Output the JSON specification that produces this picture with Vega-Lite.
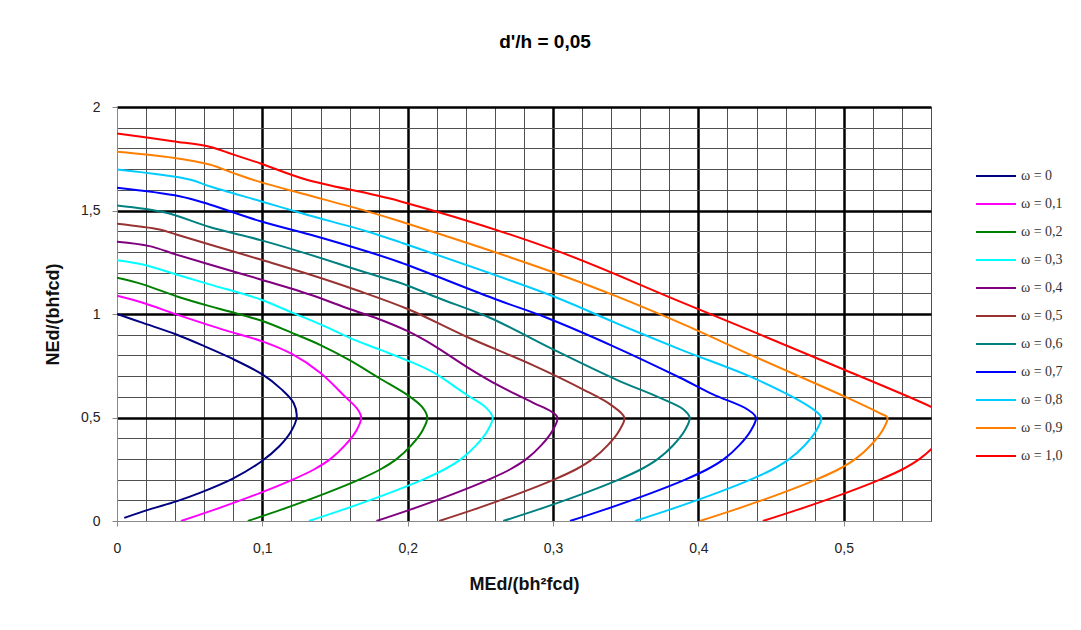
{
"$schema": "https://vega.github.io/schema/vega-lite/v6.json",
"width": 814, "height": 414,
"autosize": {"type": "none"},
"padding": {"left": 117, "top": 107, "right": 150, "bottom": 109},
"background": "white",
"title": {"text": "d'/h = 0,05", "font": "Liberation Sans", "fontSize": 19, "fontWeight": "bold", "color": "#000", "anchor": "middle", "frame": "group", "dx": 21, "offset": 48},
"config": {"view": {"stroke": "#888", "strokeWidth": 1}},
"datasets": {"curves": [
{"w":"ω = 0","i":0,"m":0,"n":1.0},{"w":"ω = 0","i":1,"m":0.0178,"n":0.957},{"w":"ω = 0","i":2,"m":0.0408,"n":0.901},{"w":"ω = 0","i":3,"m":0.06,"n":0.845},{"w":"ω = 0","i":4,"m":0.0775,"n":0.79},{"w":"ω = 0","i":5,"m":0.1,"n":0.708},{"w":"ω = 0","i":6,"m":0.113,"n":0.637},{"w":"ω = 0","i":7,"m":0.1215,"n":0.57},{"w":"ω = 0","i":8,"m":0.1236,"n":0.5},{"w":"ω = 0","i":9,"m":0.1195,"n":0.43},{"w":"ω = 0","i":10,"m":0.1115,"n":0.36},{"w":"ω = 0","i":11,"m":0.0988,"n":0.285},{"w":"ω = 0","i":12,"m":0.0797,"n":0.205},{"w":"ω = 0","i":13,"m":0.057,"n":0.136},{"w":"ω = 0","i":14,"m":0.0408,"n":0.095},{"w":"ω = 0","i":15,"m":0.0224,"n":0.056},{"w":"ω = 0","i":16,"m":0.005,"n":0.015},
{"w":"ω = 0,1","i":0,"m":0,"n":1.088},{"w":"ω = 0,1","i":1,"m":0.0178,"n":1.054},{"w":"ω = 0,1","i":2,"m":0.0408,"n":0.998},{"w":"ω = 0,1","i":3,"m":0.0637,"n":0.945},{"w":"ω = 0,1","i":4,"m":0.0775,"n":0.915},{"w":"ω = 0,1","i":5,"m":0.1,"n":0.868},{"w":"ω = 0,1","i":6,"m":0.12,"n":0.808},{"w":"ω = 0,1","i":7,"m":0.14,"n":0.715},{"w":"ω = 0,1","i":8,"m":0.157,"n":0.6},{"w":"ω = 0,1","i":9,"m":0.1655,"n":0.54},{"w":"ω = 0,1","i":10,"m":0.168,"n":0.5},{"w":"ω = 0,1","i":11,"m":0.1649,"n":0.44},{"w":"ω = 0,1","i":12,"m":0.1568,"n":0.365},{"w":"ω = 0,1","i":13,"m":0.1469,"n":0.3},{"w":"ω = 0,1","i":14,"m":0.1358,"n":0.25},{"w":"ω = 0,1","i":15,"m":0.1209,"n":0.2},{"w":"ω = 0,1","i":16,"m":0.0986,"n":0.136},{"w":"ω = 0,1","i":17,"m":0.0676,"n":0.056},{"w":"ω = 0,1","i":18,"m":0.044,"n":0.0},
{"w":"ω = 0,2","i":0,"m":0,"n":1.175},{"w":"ω = 0,2","i":1,"m":0.0178,"n":1.143},{"w":"ω = 0,2","i":2,"m":0.0408,"n":1.086},{"w":"ω = 0,2","i":3,"m":0.0637,"n":1.038},{"w":"ω = 0,2","i":4,"m":0.0775,"n":1.012},{"w":"ω = 0,2","i":5,"m":0.1,"n":0.966},{"w":"ω = 0,2","i":6,"m":0.12,"n":0.91},{"w":"ω = 0,2","i":7,"m":0.14,"n":0.85},{"w":"ω = 0,2","i":8,"m":0.16,"n":0.777},{"w":"ω = 0,2","i":9,"m":0.18,"n":0.692},{"w":"ω = 0,2","i":10,"m":0.2,"n":0.608},{"w":"ω = 0,2","i":11,"m":0.21,"n":0.55},{"w":"ω = 0,2","i":12,"m":0.2135,"n":0.5},{"w":"ω = 0,2","i":13,"m":0.2104,"n":0.44},{"w":"ω = 0,2","i":14,"m":0.2024,"n":0.365},{"w":"ω = 0,2","i":15,"m":0.1925,"n":0.3},{"w":"ω = 0,2","i":16,"m":0.1814,"n":0.25},{"w":"ω = 0,2","i":17,"m":0.1666,"n":0.2},{"w":"ω = 0,2","i":18,"m":0.1443,"n":0.136},{"w":"ω = 0,2","i":19,"m":0.1135,"n":0.056},{"w":"ω = 0,2","i":20,"m":0.09,"n":0.0},
{"w":"ω = 0,3","i":0,"m":0,"n":1.26},{"w":"ω = 0,3","i":1,"m":0.0178,"n":1.239},{"w":"ω = 0,3","i":2,"m":0.0408,"n":1.191},{"w":"ω = 0,3","i":3,"m":0.0637,"n":1.143},{"w":"ω = 0,3","i":4,"m":0.0988,"n":1.07},{"w":"ω = 0,3","i":5,"m":0.12,"n":1.008},{"w":"ω = 0,3","i":6,"m":0.14,"n":0.95},{"w":"ω = 0,3","i":7,"m":0.16,"n":0.885},{"w":"ω = 0,3","i":8,"m":0.18,"n":0.83},{"w":"ω = 0,3","i":9,"m":0.2,"n":0.775},{"w":"ω = 0,3","i":10,"m":0.217,"n":0.72},{"w":"ω = 0,3","i":11,"m":0.2405,"n":0.61},{"w":"ω = 0,3","i":12,"m":0.2535,"n":0.55},{"w":"ω = 0,3","i":13,"m":0.2584,"n":0.5},{"w":"ω = 0,3","i":14,"m":0.2552,"n":0.44},{"w":"ω = 0,3","i":15,"m":0.247,"n":0.365},{"w":"ω = 0,3","i":16,"m":0.2369,"n":0.3},{"w":"ω = 0,3","i":17,"m":0.2255,"n":0.25},{"w":"ω = 0,3","i":18,"m":0.2104,"n":0.2},{"w":"ω = 0,3","i":19,"m":0.1876,"n":0.136},{"w":"ω = 0,3","i":20,"m":0.156,"n":0.056},{"w":"ω = 0,3","i":21,"m":0.132,"n":0.0},
{"w":"ω = 0,4","i":0,"m":0,"n":1.349},{"w":"ω = 0,4","i":1,"m":0.0224,"n":1.328},{"w":"ω = 0,4","i":2,"m":0.0408,"n":1.287},{"w":"ω = 0,4","i":3,"m":0.0637,"n":1.239},{"w":"ω = 0,4","i":4,"m":0.0988,"n":1.167},{"w":"ω = 0,4","i":5,"m":0.1326,"n":1.094},{"w":"ω = 0,4","i":6,"m":0.16,"n":1.024},{"w":"ω = 0,4","i":7,"m":0.18,"n":0.976},{"w":"ω = 0,4","i":8,"m":0.2,"n":0.917},{"w":"ω = 0,4","i":9,"m":0.2175,"n":0.85},{"w":"ω = 0,4","i":10,"m":0.2405,"n":0.745},{"w":"ω = 0,4","i":11,"m":0.2634,"n":0.651},{"w":"ω = 0,4","i":12,"m":0.2864,"n":0.571},{"w":"ω = 0,4","i":13,"m":0.2985,"n":0.53},{"w":"ω = 0,4","i":14,"m":0.303,"n":0.5},{"w":"ω = 0,4","i":15,"m":0.2999,"n":0.44},{"w":"ω = 0,4","i":16,"m":0.2918,"n":0.365},{"w":"ω = 0,4","i":17,"m":0.2818,"n":0.3},{"w":"ω = 0,4","i":18,"m":0.2706,"n":0.25},{"w":"ω = 0,4","i":19,"m":0.2557,"n":0.2},{"w":"ω = 0,4","i":20,"m":0.2333,"n":0.136},{"w":"ω = 0,4","i":21,"m":0.2022,"n":0.056},{"w":"ω = 0,4","i":22,"m":0.1785,"n":0.0},
{"w":"ω = 0,5","i":0,"m":0,"n":1.436},{"w":"ω = 0,5","i":1,"m":0.0293,"n":1.408},{"w":"ω = 0,5","i":2,"m":0.0408,"n":1.384},{"w":"ω = 0,5","i":3,"m":0.0637,"n":1.336},{"w":"ω = 0,5","i":4,"m":0.0988,"n":1.263},{"w":"ω = 0,5","i":5,"m":0.1326,"n":1.191},{"w":"ω = 0,5","i":6,"m":0.165,"n":1.115},{"w":"ω = 0,5","i":7,"m":0.2,"n":1.024},{"w":"ω = 0,5","i":8,"m":0.2405,"n":0.89},{"w":"ω = 0,5","i":9,"m":0.2864,"n":0.752},{"w":"ω = 0,5","i":10,"m":0.3208,"n":0.635},{"w":"ω = 0,5","i":11,"m":0.34,"n":0.56},{"w":"ω = 0,5","i":12,"m":0.349,"n":0.5},{"w":"ω = 0,5","i":13,"m":0.3458,"n":0.44},{"w":"ω = 0,5","i":14,"m":0.3375,"n":0.365},{"w":"ω = 0,5","i":15,"m":0.3273,"n":0.3},{"w":"ω = 0,5","i":16,"m":0.3159,"n":0.25},{"w":"ω = 0,5","i":17,"m":0.3006,"n":0.2},{"w":"ω = 0,5","i":18,"m":0.2777,"n":0.136},{"w":"ω = 0,5","i":19,"m":0.2458,"n":0.056},{"w":"ω = 0,5","i":20,"m":0.2216,"n":0.0},
{"w":"ω = 0,6","i":0,"m":0,"n":1.524},{"w":"ω = 0,6","i":1,"m":0.0339,"n":1.489},{"w":"ω = 0,6","i":2,"m":0.0637,"n":1.42},{"w":"ω = 0,6","i":3,"m":0.0988,"n":1.357},{"w":"ω = 0,6","i":4,"m":0.1326,"n":1.287},{"w":"ω = 0,6","i":5,"m":0.1716,"n":1.199},{"w":"ω = 0,6","i":6,"m":0.1946,"n":1.151},{"w":"ω = 0,6","i":7,"m":0.222,"n":1.075},{"w":"ω = 0,6","i":8,"m":0.2565,"n":0.982},{"w":"ω = 0,6","i":9,"m":0.3,"n":0.829},{"w":"ω = 0,6","i":10,"m":0.3438,"n":0.682},{"w":"ω = 0,6","i":11,"m":0.3736,"n":0.595},{"w":"ω = 0,6","i":12,"m":0.3895,"n":0.54},{"w":"ω = 0,6","i":13,"m":0.394,"n":0.5},{"w":"ω = 0,6","i":14,"m":0.3908,"n":0.44},{"w":"ω = 0,6","i":15,"m":0.3825,"n":0.365},{"w":"ω = 0,6","i":16,"m":0.3722,"n":0.3},{"w":"ω = 0,6","i":17,"m":0.3606,"n":0.25},{"w":"ω = 0,6","i":18,"m":0.3452,"n":0.2},{"w":"ω = 0,6","i":19,"m":0.3222,"n":0.136},{"w":"ω = 0,6","i":20,"m":0.2901,"n":0.056},{"w":"ω = 0,6","i":21,"m":0.2657,"n":0.0},
{"w":"ω = 0,7","i":0,"m":0,"n":1.61},{"w":"ω = 0,7","i":1,"m":0.043,"n":1.569},{"w":"ω = 0,7","i":2,"m":0.0637,"n":1.529},{"w":"ω = 0,7","i":3,"m":0.0988,"n":1.448},{"w":"ω = 0,7","i":4,"m":0.1326,"n":1.384},{"w":"ω = 0,7","i":5,"m":0.1716,"n":1.303},{"w":"ω = 0,7","i":6,"m":0.1946,"n":1.25},{"w":"ω = 0,7","i":7,"m":0.261,"n":1.07},{"w":"ω = 0,7","i":8,"m":0.2956,"n":0.982},{"w":"ω = 0,7","i":9,"m":0.3415,"n":0.844},{"w":"ω = 0,7","i":10,"m":0.3874,"n":0.692},{"w":"ω = 0,7","i":11,"m":0.41,"n":0.612},{"w":"ω = 0,7","i":12,"m":0.4335,"n":0.54},{"w":"ω = 0,7","i":13,"m":0.4395,"n":0.5},{"w":"ω = 0,7","i":14,"m":0.4363,"n":0.44},{"w":"ω = 0,7","i":15,"m":0.428,"n":0.365},{"w":"ω = 0,7","i":16,"m":0.4178,"n":0.3},{"w":"ω = 0,7","i":17,"m":0.4062,"n":0.25},{"w":"ω = 0,7","i":18,"m":0.3909,"n":0.2},{"w":"ω = 0,7","i":19,"m":0.3679,"n":0.136},{"w":"ω = 0,7","i":20,"m":0.3359,"n":0.056},{"w":"ω = 0,7","i":21,"m":0.3116,"n":0.0},
{"w":"ω = 0,8","i":0,"m":0,"n":1.698},{"w":"ω = 0,8","i":1,"m":0.0499,"n":1.65},{"w":"ω = 0,8","i":2,"m":0.0637,"n":1.617},{"w":"ω = 0,8","i":3,"m":0.0988,"n":1.545},{"w":"ω = 0,8","i":4,"m":0.13,"n":1.481},{"w":"ω = 0,8","i":5,"m":0.1716,"n":1.4},{"w":"ω = 0,8","i":6,"m":0.1946,"n":1.347},{"w":"ω = 0,8","i":7,"m":0.3,"n":1.086},{"w":"ω = 0,8","i":8,"m":0.3438,"n":0.955},{"w":"ω = 0,8","i":9,"m":0.3874,"n":0.829},{"w":"ω = 0,8","i":10,"m":0.44,"n":0.684},{"w":"ω = 0,8","i":11,"m":0.479,"n":0.539},{"w":"ω = 0,8","i":12,"m":0.4845,"n":0.5},{"w":"ω = 0,8","i":13,"m":0.4813,"n":0.44},{"w":"ω = 0,8","i":14,"m":0.473,"n":0.365},{"w":"ω = 0,8","i":15,"m":0.4627,"n":0.3},{"w":"ω = 0,8","i":16,"m":0.4512,"n":0.25},{"w":"ω = 0,8","i":17,"m":0.4358,"n":0.2},{"w":"ω = 0,8","i":18,"m":0.4128,"n":0.136},{"w":"ω = 0,8","i":19,"m":0.3807,"n":0.056},{"w":"ω = 0,8","i":20,"m":0.3564,"n":0.0},
{"w":"ω = 0,9","i":0,"m":0,"n":1.784},{"w":"ω = 0,9","i":1,"m":0.0384,"n":1.755},{"w":"ω = 0,9","i":2,"m":0.0637,"n":1.722},{"w":"ω = 0,9","i":3,"m":0.0797,"n":1.682},{"w":"ω = 0,9","i":4,"m":0.0988,"n":1.637},{"w":"ω = 0,9","i":5,"m":0.13,"n":1.577},{"w":"ω = 0,9","i":6,"m":0.1716,"n":1.497},{"w":"ω = 0,9","i":7,"m":0.1946,"n":1.448},{"w":"ω = 0,9","i":8,"m":0.3,"n":1.202},{"w":"ω = 0,9","i":9,"m":0.3438,"n":1.085},{"w":"ω = 0,9","i":10,"m":0.3874,"n":0.957},{"w":"ω = 0,9","i":11,"m":0.44,"n":0.79},{"w":"ω = 0,9","i":12,"m":0.5,"n":0.603},{"w":"ω = 0,9","i":13,"m":0.525,"n":0.52},{"w":"ω = 0,9","i":14,"m":0.53,"n":0.5},{"w":"ω = 0,9","i":15,"m":0.5268,"n":0.44},{"w":"ω = 0,9","i":16,"m":0.5184,"n":0.365},{"w":"ω = 0,9","i":17,"m":0.5081,"n":0.3},{"w":"ω = 0,9","i":18,"m":0.4965,"n":0.25},{"w":"ω = 0,9","i":19,"m":0.481,"n":0.2},{"w":"ω = 0,9","i":20,"m":0.4578,"n":0.136},{"w":"ω = 0,9","i":21,"m":0.4255,"n":0.056},{"w":"ω = 0,9","i":22,"m":0.401,"n":0.0},
{"w":"ω = 1,0","i":0,"m":0,"n":1.872},{"w":"ω = 1,0","i":1,"m":0.0384,"n":1.835},{"w":"ω = 1,0","i":2,"m":0.0637,"n":1.808},{"w":"ω = 1,0","i":3,"m":0.0797,"n":1.771},{"w":"ω = 1,0","i":4,"m":0.0988,"n":1.727},{"w":"ω = 1,0","i":5,"m":0.13,"n":1.65},{"w":"ω = 1,0","i":6,"m":0.1946,"n":1.545},{"w":"ω = 1,0","i":7,"m":0.3,"n":1.312},{"w":"ω = 1,0","i":8,"m":0.3874,"n":1.06},{"w":"ω = 1,0","i":9,"m":0.5,"n":0.732},{"w":"ω = 1,0","i":10,"m":0.56,"n":0.552},{"w":"ω = 1,0","i":11,"m":0.5743,"n":0.5},{"w":"ω = 1,0","i":12,"m":0.571,"n":0.44},{"w":"ω = 1,0","i":13,"m":0.5626,"n":0.365},{"w":"ω = 1,0","i":14,"m":0.5522,"n":0.3},{"w":"ω = 1,0","i":15,"m":0.5405,"n":0.25},{"w":"ω = 1,0","i":16,"m":0.5249,"n":0.2},{"w":"ω = 1,0","i":17,"m":0.5015,"n":0.136},{"w":"ω = 1,0","i":18,"m":0.469,"n":0.056},{"w":"ω = 1,0","i":19,"m":0.4443,"n":0.0}
]},
"data": {"name": "curves"},
"mark": {"type": "line", "strokeWidth": 2, "clip": true, "interpolate": "catmull-rom"},
"encoding": {
  "x": {"field": "m", "type": "quantitative", "scale": {"domain": [0, 0.56], "nice": false, "zero": false},
    "axis": {"title": "MEd/(bh²fcd)", "values": [0,0.02,0.04,0.06,0.08,0.1,0.12,0.14,0.16,0.18,0.2,0.22,0.24,0.26,0.28,0.3,0.32,0.34,0.36,0.38,0.4,0.42,0.44,0.46,0.48,0.5,0.52,0.54,0.56],
      "grid": true,
      "gridColor": {"condition": {"test": "abs(datum.value*10-round(datum.value*10))<1e-6 && datum.value>0", "value": "#000000"}, "value": "#505050"},
      "gridWidth": {"condition": {"test": "abs(datum.value*10-round(datum.value*10))<1e-6 && datum.value>0", "value": 2.5}, "value": 1},
      "tickOpacity": {"condition": {"test": "abs(datum.value*10-round(datum.value*10))<1e-6", "value": 1}, "value": 0},
      "tickColor": "#888", "tickSize": 5, "domainColor": "#888",
      "labelExpr": "abs(datum.value*10-round(datum.value*10))<1e-6 ? replace(format(datum.value,'~g'),'.',',') : ''",
      "labelOverlap": false, "labelFlush": false, "labelBound": false,
      "labelFont": "Liberation Sans", "labelFontSize": 14, "labelColor": "#222", "labelPadding": 15,
      "titleFont": "Liberation Sans", "titleFontSize": 18, "titleFontWeight": "bold", "titleColor": "#111", "titlePadding": 20}},
  "y": {"field": "n", "type": "quantitative", "scale": {"domain": [0, 2], "nice": false},
    "axis": {"title": "NEd/(bhfcd)", "values": [0,0.1,0.2,0.3,0.4,0.5,0.6,0.7,0.8,0.9,1,1.1,1.2,1.3,1.4,1.5,1.6,1.7,1.8,1.9,2],
      "grid": true,
      "gridColor": {"condition": {"test": "abs(datum.value*2-round(datum.value*2))<1e-6 && datum.value>0", "value": "#000000"}, "value": "#505050"},
      "gridWidth": {"condition": {"test": "abs(datum.value*2-round(datum.value*2))<1e-6 && datum.value>0", "value": 2.5}, "value": 1},
      "tickOpacity": {"condition": {"test": "abs(datum.value*2-round(datum.value*2))<1e-6", "value": 1}, "value": 0},
      "tickColor": "#888", "tickSize": 5, "domainColor": "#888",
      "labelExpr": "abs(datum.value*2-round(datum.value*2))<1e-6 ? replace(format(datum.value,'~g'),'.',',') : ''",
      "labelOverlap": false, "labelFlush": false, "labelBound": false,
      "labelFont": "Liberation Sans", "labelFontSize": 14, "labelColor": "#222", "labelPadding": 12,
      "titleFont": "Liberation Sans", "titleFontSize": 18, "titleFontWeight": "bold", "titleColor": "#111", "titlePadding": 18}},
  "color": {"field": "w", "type": "nominal",
    "scale": {"domain": ["ω = 0","ω = 0,1","ω = 0,2","ω = 0,3","ω = 0,4","ω = 0,5","ω = 0,6","ω = 0,7","ω = 0,8","ω = 0,9","ω = 1,0"],
      "range": ["#000080","#FF00FF","#008000","#00FFFF","#800080","#993333","#008080","#0000FF","#00CCFF","#FF7F00","#FF0000"]},
    "legend": {"title": null, "orient": "none", "legendX": 858, "legendY": 48, "symbolType": "stroke", "symbolSize": 1600, "symbolStrokeWidth": 2,
      "labelFont": "Liberation Serif", "labelFontSize": 14, "labelColor": "#333", "labelOffset": 4, "rowPadding": 0}},
  "order": {"field": "i", "type": "quantitative"}
}
}
